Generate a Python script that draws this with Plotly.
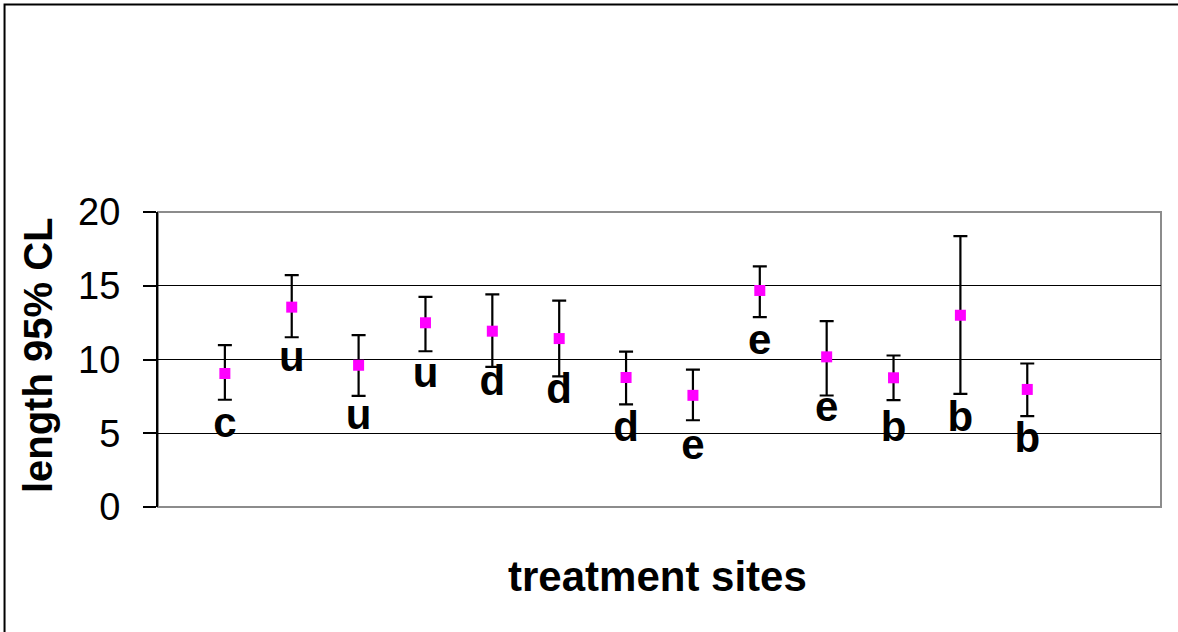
import plotly.graph_objects as go

# Mean length per treatment site with 95% confidence limits
sites = list(range(1, 14))
mean_length = [9.05, 13.55, 9.61, 12.49, 11.92, 11.42, 8.78, 7.57, 14.68, 10.18, 8.76, 13.00, 7.97]
upper_cl = [10.97, 15.72, 11.65, 14.25, 14.41, 13.99, 10.54, 9.32, 16.31, 12.60, 10.27, 18.36, 9.73]
lower_cl = [7.27, 11.51, 7.54, 10.56, 9.50, 8.85, 6.96, 5.88, 12.87, 7.56, 7.24, 7.67, 6.16]

# Group letters and the level at which each letter sits
group_letters = ["c", "u", "u", "u", "d", "d", "d", "e", "e", "e", "b", "b", "b"]
letter_level = [4.69, 9.21, 5.25, 8.08, 7.56, 7.02, 4.46, 3.22, 10.34, 5.82, 4.46, 5.14, 3.67]

y_ticks = [0, 5, 10, 15, 20]

FONT = "Liberation Sans, Arial, sans-serif"

err_plus = [u - m for u, m in zip(upper_cl, mean_length)]
err_minus = [m - l for m, l in zip(mean_length, lower_cl)]

fig = go.Figure()

fig.add_trace(go.Scatter(
    x=sites, y=mean_length, mode="markers",
    marker=dict(symbol="square", size=11, color="#FF00FF", line=dict(width=0)),
    error_y=dict(type="data", symmetric=False, array=err_plus, arrayminus=err_minus,
                 color="black", thickness=2.2, width=7),
    showlegend=False, hoverinfo="skip",
))

# Letters drawn with their baseline near the letter level
fig.add_trace(go.Scatter(
    x=sites, y=[v + 0.75 for v in letter_level], mode="text",
    text=group_letters, textposition="middle center",
    textfont=dict(family=FONT, size=42, color="black", weight="bold"),
    showlegend=False, hoverinfo="skip",
))

fig.update_layout(
    width=1178, height=632,
    margin=dict(l=158, r=17, t=212, b=125),
    paper_bgcolor="white", plot_bgcolor="white",
    xaxis=dict(range=[0, 15], showgrid=False, showticklabels=False, ticks="",
               zeroline=False, showline=False),
    yaxis=dict(range=[0, 20], tickvals=y_ticks, showgrid=True, gridcolor="black",
               gridwidth=1, zeroline=False, showline=True, linecolor="black",
               linewidth=2, ticks="outside", ticklen=13, tickwidth=1.5,
               tickcolor="black", ticklabelstandoff=15,
               tickfont=dict(family=FONT, size=38, color="black")),
    shapes=[
        # plot area frame
        dict(type="rect", xref="paper", yref="paper", x0=0, x1=1, y0=0, y1=1,
             line=dict(color="#8c8c8c", width=2), layer="below"),
        # chart frame
        dict(type="rect", xref="paper", yref="paper", x0=-0.153, x1=1.2, y0=-0.6, y1=1.703,
             line=dict(color="black", width=2)),
    ],
    annotations=[
        dict(text="length 95% CL", xref="paper", yref="paper", x=-0.1196, y=0.515,
             xanchor="center", yanchor="middle", textangle=-90, showarrow=False,
             font=dict(family=FONT, size=40, color="black", weight="bold")),
        dict(text="treatment sites", xref="paper", yref="paper", x=0.498, y=-0.236,
             xanchor="center", yanchor="middle", showarrow=False,
             font=dict(family=FONT, size=42, color="black", weight="bold")),
    ],
)

fig.write_html("out.html")
